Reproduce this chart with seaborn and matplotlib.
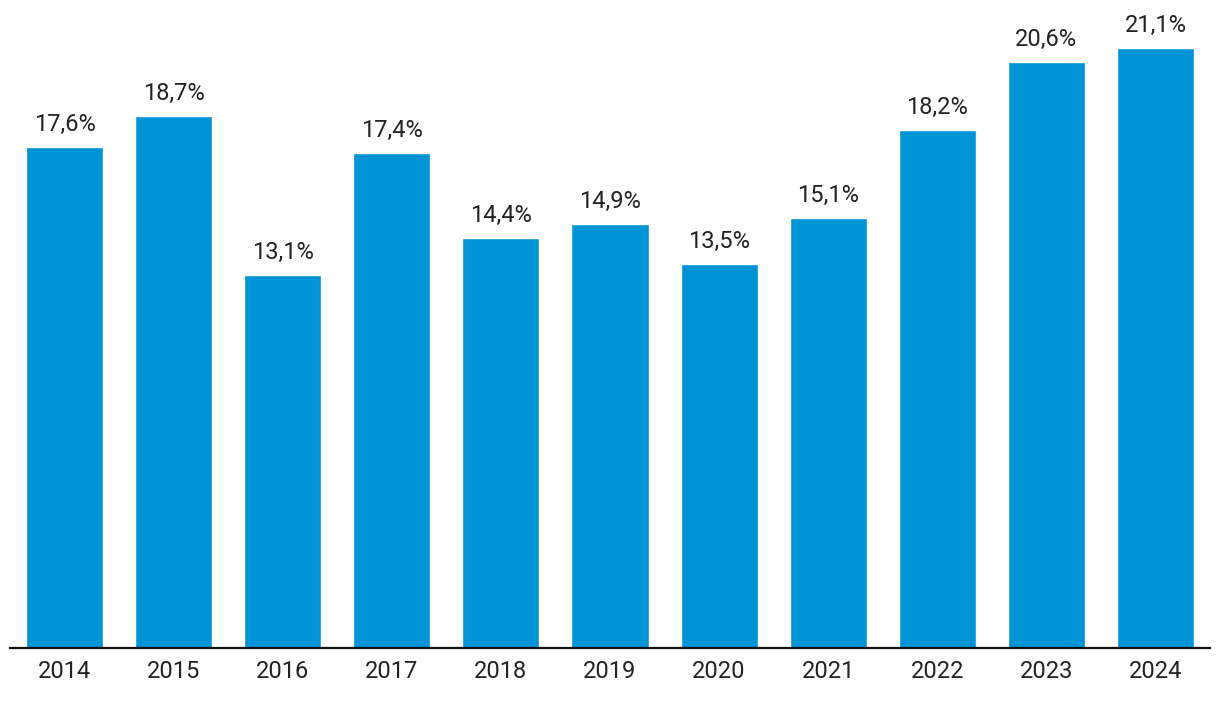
import seaborn as sns
import pandas as pd
import matplotlib.pyplot as plt

years = ["2014", "2015", "2016", "2017", "2018", "2019", "2020", "2021", "2022", "2023", "2024"]
values = [17.6, 18.7, 13.1, 17.4, 14.4, 14.9, 13.5, 15.1, 18.2, 20.6, 21.1]
labels = ["17,6%", "18,7%", "13,1%", "17,4%", "14,4%", "14,9%", "13,5%", "15,1%", "18,2%", "20,6%", "21,1%"]

df = pd.DataFrame({"year": years, "value": values})

sns.set_style("white")
plt.rcParams["font.family"] = ["Roboto", "DejaVu Sans"]

fig = plt.figure(figsize=(12.2, 7.02), dpi=100)
ax = fig.add_axes([10 / 1220, 54 / 702, 1200 / 1220, 648 / 702])

sns.barplot(data=df, x="year", y="value", color="#0093d6", saturation=1, width=0.706, ax=ax)

for i, (v, lab) in enumerate(zip(values, labels)):
    ax.annotate(lab, (i, v), xytext=(0, 8), textcoords="offset points",
                ha="center", va="bottom", fontsize=17, color="#222222")

ax.set_xlim(-0.5, 10.5)
ax.set_ylim(0, 22.78)
ax.set_xlabel("")
ax.set_ylabel("")
ax.set_yticks([])
for s in ["top", "right", "left"]:
    ax.spines[s].set_visible(False)
ax.spines["bottom"].set_color("#111111")
ax.spines["bottom"].set_linewidth(1.6)
ax.tick_params(axis="x", length=0, pad=9, labelsize=17, labelcolor="#222222")

fig.savefig("out.png", dpi=100)
